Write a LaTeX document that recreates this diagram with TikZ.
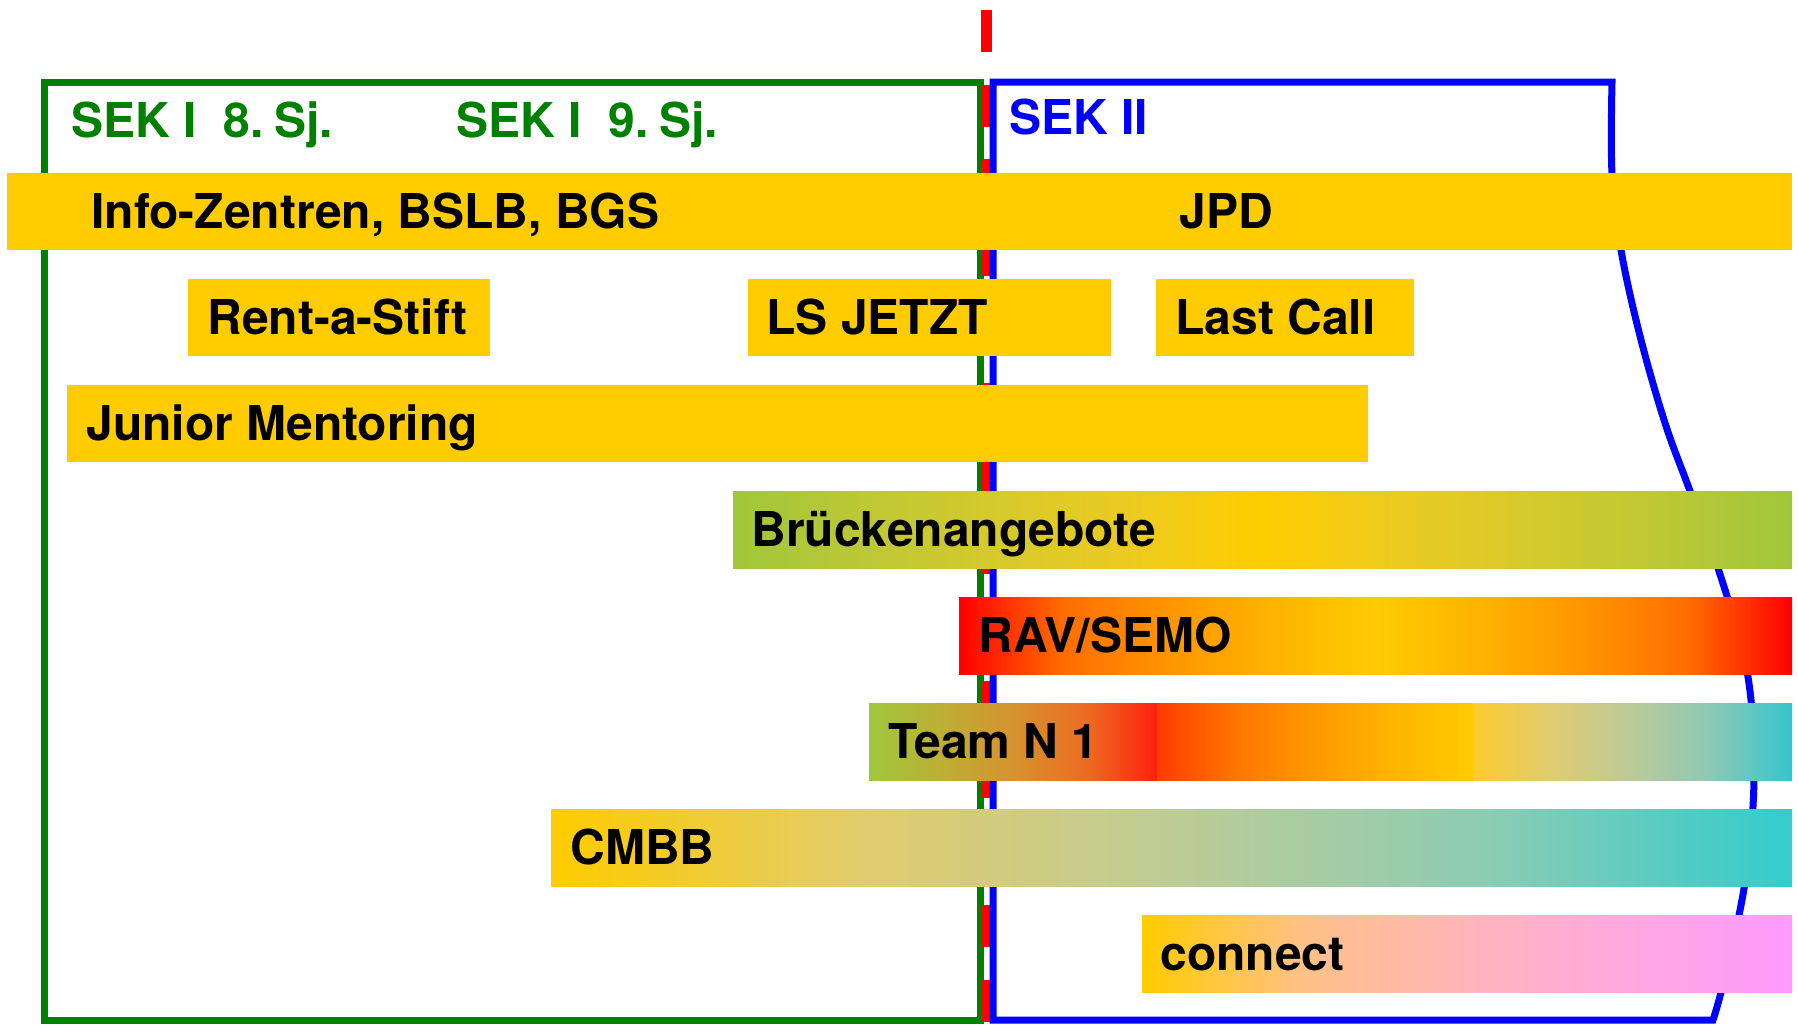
\documentclass[tikz,border=0pt]{standalone}
\usepackage{fontspec}
\setmainfont{TeX Gyre Heros}
\definecolor{gold}{RGB}{255,204,0}
\definecolor{lgreen}{RGB}{160,199,60}
\definecolor{dgreen}{RGB}{0,128,0}
\definecolor{cyanb}{RGB}{51,198,206}
\definecolor{turq}{RGB}{51,204,204}
\definecolor{pinkb}{RGB}{255,153,255}
\definecolor{redb}{RGB}{255,0,0}
\definecolor{redo}{RGB}{255,32,16}
\definecolor{redt}{RGB}{255,60,0}
\definecolor{yelt}{RGB}{253,204,45}
\definecolor{gIa}{RGB}{189,200,53}
\definecolor{gIb}{RGB}{214,202,44}
\definecolor{gIc}{RGB}{236,203,32}
\definecolor{rIIa}{RGB}{255,109,0}
\definecolor{rIIb}{RGB}{255,149,0}
\definecolor{rIIc}{RGB}{255,179,0}
\definecolor{gIIIa}{RGB}{189,175,53}
\definecolor{gIIIb}{RGB}{214,146,45}
\definecolor{gIIIc}{RGB}{236,109,34}
\definecolor{rIVa}{RGB}{255,118,0}
\definecolor{rIVb}{RGB}{255,153,0}
\definecolor{rIVc}{RGB}{255,181,0}
\definecolor{yVa}{RGB}{223,203,115}
\definecolor{yVb}{RGB}{187,202,153}
\definecolor{yVc}{RGB}{140,200,182}
\definecolor{cVIa}{RGB}{225,204,109}
\definecolor{cVIb}{RGB}{189,204,149}
\definecolor{cVIc}{RGB}{141,204,179}
\definecolor{pVIIa}{RGB}{255,193,136}
\definecolor{pVIIb}{RGB}{255,181,186}
\definecolor{pVIIc}{RGB}{255,168,224}
\pgfdeclarehorizontalshading{bruecksh}{100bp}{color(0bp)=(lgreen); color(25bp)=(lgreen); color(31.25bp)=(gIa); color(37.5bp)=(gIb); color(43.75bp)=(gIc); color(50bp)=(gold); color(56.25bp)=(gIc); color(62.5bp)=(gIb); color(68.75bp)=(gIa); color(75bp)=(lgreen); color(100bp)=(lgreen)}
\pgfdeclarehorizontalshading{ravsh}{100bp}{color(0bp)=(redb); color(25bp)=(redb); color(31.25bp)=(rIIa); color(37.5bp)=(rIIb); color(43.75bp)=(rIIc); color(50bp)=(gold); color(56.25bp)=(rIIc); color(62.5bp)=(rIIb); color(68.75bp)=(rIIa); color(75bp)=(redb); color(100bp)=(redb)}
\pgfdeclarehorizontalshading{teamAsh}{100bp}{color(0bp)=(lgreen); color(25bp)=(lgreen); color(37.5bp)=(gIIIa); color(50bp)=(gIIIb); color(62.5bp)=(gIIIc); color(75bp)=(redo); color(100bp)=(redo)}
\pgfdeclarehorizontalshading{teamBsh}{100bp}{color(0bp)=(redt); color(25bp)=(redt); color(37.5bp)=(rIVa); color(50bp)=(rIVb); color(62.5bp)=(rIVc); color(75bp)=(gold); color(100bp)=(gold)}
\pgfdeclarehorizontalshading{teamCsh}{100bp}{color(0bp)=(yelt); color(25bp)=(yelt); color(37.5bp)=(yVa); color(50bp)=(yVb); color(62.5bp)=(yVc); color(75bp)=(cyanb); color(100bp)=(cyanb)}
\pgfdeclarehorizontalshading{cmbbsh}{100bp}{color(0bp)=(gold); color(25bp)=(gold); color(37.5bp)=(cVIa); color(50bp)=(cVIb); color(62.5bp)=(cVIc); color(75bp)=(turq); color(100bp)=(turq)}
\pgfdeclarehorizontalshading{connsh}{100bp}{color(0bp)=(gold); color(25bp)=(gold); color(37.5bp)=(pVIIa); color(50bp)=(pVIIb); color(62.5bp)=(pVIIc); color(75bp)=(pinkb); color(100bp)=(pinkb)}
\tikzset{
  lbl/.style={anchor=base west,inner sep=0pt,font=\fontsize{24pt}{28pt}\selectfont\bfseries,text=black},
  seklbl/.style={lbl,text=dgreen},
  sekblue/.style={lbl,text=blue},
}
\begin{document}
\begin{tikzpicture}[x=0.5pt,y=-0.5pt]
\useasboundingbox (0,0) rectangle (1798,1024);
\fill[white] (0,0) rectangle (1798,1024);
% frames
\draw[dgreen,line width=3.5pt] (44,82) rectangle (980.5,1020);
\draw[redb,line width=5.5pt,dash pattern=on 21pt off 16.3pt] (986,10) -- (986,1024);
\draw[blue,line width=3.5pt,line join=miter] (993,1020) -- (993,82) -- (1612,82)
  -- plot[smooth,tension=0.6] coordinates {(1612,82) (1612,174) (1621,250) (1640,336) (1665,423) (1690,491) (1717,565) (1747,671) (1754,777) (1745,882) (1724,980) (1713,1020)}
  -- cycle;
% bars
\fill[gold] (7,173) rectangle (1792,250);
\fill[gold] (188,279) rectangle (490,356);
\fill[gold] (748,279) rectangle (1111,356);
\fill[gold] (1156,279) rectangle (1414,356);
\fill[gold] (67,385) rectangle (1368,462);
\shade[shading=bruecksh] (733,491) rectangle (1792,568);
\shade[shading=ravsh] (959,597) rectangle (1792,674);
\shade[shading=teamAsh] (869,703) rectangle (1157,780);
\shade[shading=teamBsh] (1157,703) rectangle (1473,780);
\shade[shading=teamCsh] (1473,703) rectangle (1792,780);
\shade[shading=cmbbsh] (551,809) rectangle (1792,886);
\shade[shading=connsh] (1142,915) rectangle (1792,992);
% labels
\node[seklbl] (s8) at (71,137) {SEK I\ \ 8.\hspace{0.22em}Sj.};
\node[seklbl] (s9) at (456,137) {SEK I\ \ 9.\hspace{0.22em}Sj.};
\node[sekblue] (s2) at (1009,134) {SEK II};
\node[lbl] (info) at (91,228) {Info-Zentren, BSLB, BGS};
\node[lbl] (jpd) at (1179,228) {JPD};
\node[lbl] (rent) at (207,334) {Rent-a-Stift};
\node[lbl] (ls) at (766,334) {LS JETZT};
\node[lbl] (last) at (1175,334) {Last Call};
\node[lbl] (junior) at (86,440) {Junior Mentoring};
\node[lbl] (brueck) at (751,546) {Brückenangebote};
\node[lbl] (rav) at (978,652) {RAV/SEMO};
\node[lbl] (team) at (888,758) {Team N 1};
\node[lbl] (cmbb) at (570,864) {CMBB};
\node[lbl] (conn) at (1160,970) {connect};
\end{tikzpicture}
\end{document}
